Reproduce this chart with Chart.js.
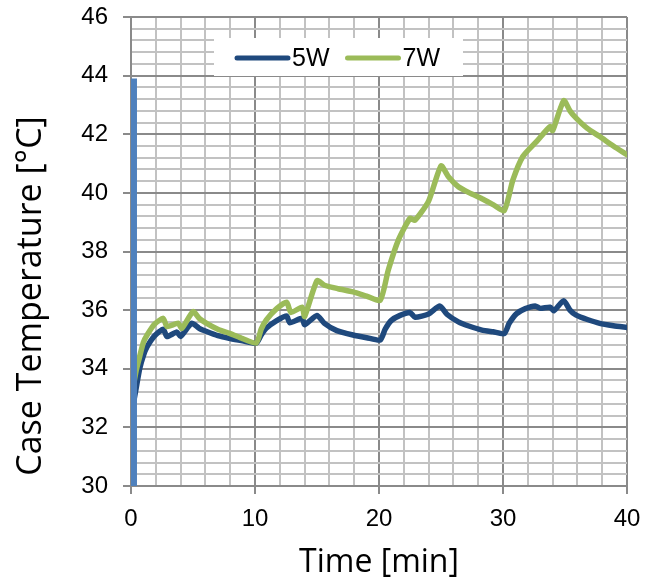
<!DOCTYPE html>
<html>
<head>
<meta charset="utf-8">
<script src="https://cdn.jsdelivr.net/npm/chart.js@4"></script>
<style>
  html, body { margin: 0; padding: 0; background: #fff; }
  #wrap { width: 646px; height: 586px; }
</style>
</head>
<body>
<div id="wrap"><canvas id="chart" width="646" height="586"></canvas></div>
<script>
// case temperature vs time, 5W and 7W heating steps
const time5W = [0.1, 0.4, 0.7, 1.0, 1.3, 1.9, 2.6, 2.9, 3.7, 4.0, 4.9, 5.5, 6.1, 7.0, 8.0, 9.0, 10.1,
  10.5, 10.9, 11.75, 12.55, 12.8, 13.8, 14.0, 15.0, 15.6, 16.6, 17.9, 19.0, 20.1,
  20.5, 21.0, 21.7, 22.5, 22.9, 24.0, 24.9, 25.5, 26.4, 27.3, 28.3, 29.2, 30.1,
  30.5, 31.1, 31.8, 32.6, 33.0, 33.8, 34.1, 34.9, 35.4, 35.9, 36.8, 37.8, 38.9, 40.0];
const temp5W = [32.6, 33.3, 34.0, 34.45, 34.75, 35.12, 35.35, 35.1, 35.25, 35.1, 35.55, 35.38, 35.27, 35.13, 35.03, 34.95, 34.87,
  35.15, 35.38, 35.64, 35.8, 35.57, 35.72, 35.5, 35.82, 35.55, 35.3, 35.15, 35.06, 34.98,
  35.35, 35.65, 35.82, 35.92, 35.76, 35.87, 36.14, 35.85, 35.6, 35.45, 35.32, 35.26, 35.2,
  35.55, 35.88, 36.05, 36.14, 36.06, 36.1, 35.98, 36.32, 36.0, 35.83, 35.68, 35.55, 35.47, 35.41];

const time7W = [0.1, 0.4, 0.6, 1.0, 1.3, 1.9, 2.6, 2.9, 3.8, 4.1, 5.0, 5.5, 6.1, 7.0, 8.0, 9.0, 10.1,
  10.5, 10.9, 11.75, 12.55, 12.9, 13.8, 14.0, 15.0, 15.6, 16.7, 17.9, 19.0, 20.1,
  20.75, 21.56, 22.5, 22.9, 24.0, 25.0, 25.6, 26.4, 27.3, 28.3, 29.2, 30.1,
  30.8, 31.6, 32.7, 33.8, 34.0, 34.9, 35.4, 35.9, 36.8, 37.8, 38.9, 40.0];
const temp7W = [33.2, 33.9, 34.25, 34.9, 35.15, 35.52, 35.72, 35.44, 35.55, 35.38, 35.95, 35.72, 35.55, 35.35, 35.2, 35.03, 34.88,
  35.35, 35.66, 36.05, 36.27, 35.92, 36.1, 35.78, 37.0, 36.85, 36.73, 36.62, 36.48, 36.34,
  37.37, 38.39, 39.13, 39.07, 39.72, 40.92, 40.55, 40.21, 40.0, 39.8, 39.6, 39.4,
  40.44, 41.24, 41.75, 42.26, 42.12, 43.15, 42.8, 42.55, 42.2, 41.92, 41.6, 41.3];

// vertical marker at start
const markerTime = [0.2, 0.2];
const markerTemp = [30, 43.9];

const seriesNames = ['5W', '7W'];
const seriesColors = ['#1F497D', '#9BBB59'];
const yTitle = 'Case Temperature [°C]';

const xMin = 0, xMax = 40, xMinorStep = 2, xMajorStep = 10;
const yMin = 30, yMax = 46, yMinorStep = 0.4, yMajorStep = 2;

const toPoints = (xs, ys) => xs.map((x, i) => ({ x, y: ys[i] }));
const isMajor = (v, step) => Math.abs(v / step - Math.round(v / step)) < 1e-6;

const MAJOR_GRID = '#8a8a8a';
const MINOR_GRID = '#c2c2c2';

// legend box drawn inside the plot area, like the Excel original
// and the y title, which sits a bit below the plot centre
const insideLegend = {
  id: 'insideLegend',
  beforeDatasetsDraw(chart) {
    const { ctx, chartArea } = chart;
    const bx = chartArea.left + 83, by = chartArea.top + 21, bw = 249, bh = 38;
    ctx.save();
    ctx.fillStyle = '#fff';
    ctx.fillRect(bx, by, bw, bh);
    ctx.font = '25px "Liberation Sans", Arial, sans-serif';
    ctx.textBaseline = 'middle';
    ctx.lineCap = 'round';
    ctx.lineWidth = 5;
    let x = bx + 23;
    const cy = by + bh / 2 + 1;
    seriesNames.forEach((name, i) => {
      ctx.strokeStyle = seriesColors[i];
      ctx.beginPath();
      ctx.moveTo(x, cy);
      ctx.lineTo(x + 51, cy);
      ctx.stroke();
      ctx.fillStyle = '#000';
      ctx.fillText(name, x + 55, cy + 1);
      x += 55 + ctx.measureText(name).width + 18;
    });
    ctx.restore();
  },
  afterDraw(chart) {
    const { ctx, chartArea } = chart;
    ctx.save();
    ctx.translate(31, chartArea.bottom - 190);
    ctx.rotate(-Math.PI / 2);
    ctx.font = '34px "Open Sans", sans-serif';
    ctx.fillStyle = '#000';
    ctx.textAlign = 'center';
    ctx.textBaseline = 'middle';
    ctx.fillText(yTitle, 0, 0);
    ctx.restore();
  }
};

new Chart(document.getElementById('chart'), {
  type: 'line',
  data: {
    datasets: [
      {
        label: 'marker',
        data: toPoints(markerTime, markerTemp),
        borderColor: '#4F81BD',
        borderWidth: 7,
        borderCapStyle: 'butt',
        pointRadius: 0,
        order: 0,
      },
      {
        label: seriesNames[0],
        data: toPoints(time5W, temp5W),
        borderColor: seriesColors[0],
        borderWidth: 5.5,
        borderJoinStyle: 'round',
        borderCapStyle: 'round',
        pointRadius: 0,
        tension: 0.2,
        order: 2,
      },
      {
        label: seriesNames[1],
        data: toPoints(time7W, temp7W),
        borderColor: seriesColors[1],
        borderWidth: 5.5,
        borderJoinStyle: 'round',
        borderCapStyle: 'round',
        pointRadius: 0,
        tension: 0.2,
        order: 1,
      },
    ],
  },
  options: {
    responsive: false,
    animation: false,
    layout: { padding: { top: 17, right: 19, left: 0, bottom: 0 } },
    plugins: {
      legend: { display: false },
      tooltip: { enabled: false },
    },
    scales: {
      x: {
        type: 'linear',
        min: xMin,
        max: xMax,
        afterFit: (s) => { s.height = 100; s.paddingLeft = 0; s.paddingRight = 0; },
        border: { color: MAJOR_GRID, width: 2 },
        grid: {
          lineWidth: 2,
          color: (c) => isMajor(c.tick.value, xMajorStep) ? MAJOR_GRID : MINOR_GRID,
          tickColor: (c) => isMajor(c.tick.value, xMajorStep) ? MAJOR_GRID : 'rgba(0,0,0,0)',
          tickLength: 8,
        },
        ticks: {
          stepSize: xMinorStep,
          autoSkip: false,
          maxRotation: 0,
          padding: 11,
          color: '#000',
          font: { family: '"Liberation Sans", Arial, sans-serif', size: 24 },
          callback: (v) => isMajor(v, xMajorStep) ? String(v) : '',
        },
        title: {
          display: true,
          text: 'Time [min]',
          color: '#000',
          font: { family: '"Open Sans", sans-serif', size: 32 },
          padding: { top: 0, bottom: 4 },
        },
      },
      y: {
        min: yMin,
        max: yMax,
        afterFit: (s) => { s.width = 131; s.paddingTop = 0; s.paddingBottom = 0; },
        border: { color: MAJOR_GRID, width: 2 },
        grid: {
          lineWidth: 2,
          color: (c) => isMajor(c.tick.value, yMajorStep) ? MAJOR_GRID : MINOR_GRID,
          tickColor: (c) => isMajor(c.tick.value, yMajorStep) ? MAJOR_GRID : 'rgba(0,0,0,0)',
          tickLength: 8,
        },
        ticks: {
          stepSize: yMinorStep,
          autoSkip: false,
          padding: 15,
          color: '#000',
          font: { family: '"Liberation Sans", Arial, sans-serif', size: 24 },
          callback: (v) => isMajor(v, yMajorStep) ? String(Math.round(v)) : '',
        },
      },
    },
  },
  plugins: [insideLegend],
});
</script>
</body>
</html>
